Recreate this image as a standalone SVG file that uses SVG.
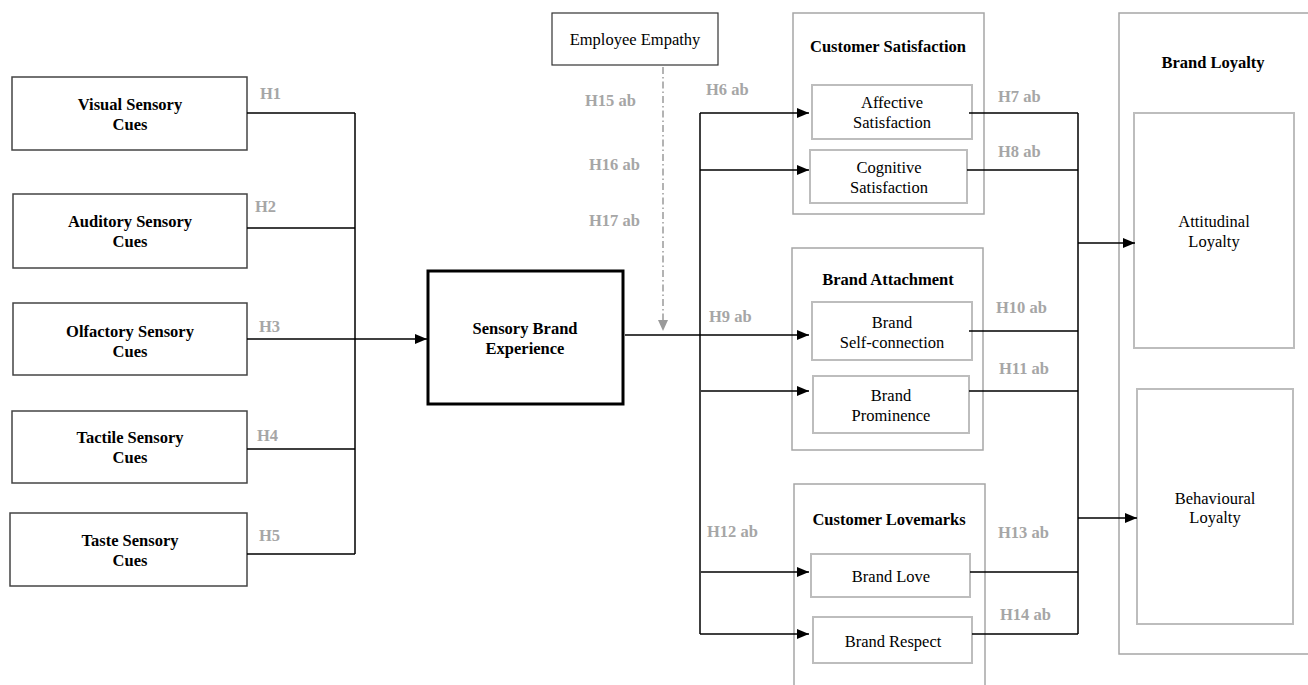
<svg xmlns="http://www.w3.org/2000/svg" width="1308" height="685" viewBox="0 0 1308 685">
  <style>
    text { font-family: "Liberation Serif", "Times New Roman", serif; font-size: 16.5px; fill: #000; text-anchor: middle; }
    .b { font-weight: bold; }
    .h { font-weight: bold; fill: #a6a6a6; text-anchor: start; }
    .cue { fill: #fff; stroke: #444; stroke-width: 1.5; }
    .core { fill: #fff; stroke: #000; stroke-width: 3; }
    .plain { fill: #fff; stroke: #333; stroke-width: 1.2; }
    .outer { fill: #fff; stroke: #a6a6a6; stroke-width: 1.5; }
    .inner { fill: #fff; stroke: #bdbdbd; stroke-width: 2; }
    .ln { fill: none; stroke: #000; stroke-width: 1.5; }
    .arr { fill: none; stroke: #000; stroke-width: 1.5; marker-end: url(#ah); }
    .mod { fill: none; stroke: #9a9a9a; stroke-width: 1.5; stroke-dasharray: 7 3 1.5 3; }
  </style>
  <defs>
    <marker id="ah" viewBox="0 0 12 10" refX="12" refY="5" markerWidth="12" markerHeight="10" markerUnits="userSpaceOnUse" orient="auto">
      <path d="M0,0 L12,5 L0,10 Z" fill="#000"/>
    </marker>
  </defs>

  <!-- sensory cue boxes -->
  <g id="visual"><rect class="cue" x="12" y="77" width="235" height="73"/><text class="b" x="130" y="110">Visual Sensory</text><text class="b" x="130" y="130">Cues</text></g>
  <g id="auditory"><rect class="cue" x="13" y="194" width="234" height="74"/><text class="b" x="130" y="227">Auditory Sensory</text><text class="b" x="130" y="247">Cues</text></g>
  <g id="olfactory"><rect class="cue" x="13" y="303" width="234" height="72"/><text class="b" x="130" y="337">Olfactory Sensory</text><text class="b" x="130" y="357">Cues</text></g>
  <g id="tactile"><rect class="cue" x="12" y="411" width="235" height="72"/><text class="b" x="130" y="443">Tactile Sensory</text><text class="b" x="130" y="463">Cues</text></g>
  <g id="taste"><rect class="cue" x="10" y="513" width="237" height="73"/><text class="b" x="130" y="546">Taste Sensory</text><text class="b" x="130" y="566">Cues</text></g>

  <!-- central construct -->
  <g id="sensory-brand-experience"><rect class="core" x="428" y="271" width="195" height="133"/><text class="b" x="525" y="334">Sensory Brand</text><text class="b" x="525" y="354">Experience</text></g>

  <!-- moderator -->
  <g id="employee-empathy"><rect class="plain" x="552" y="13" width="166" height="52"/><text x="635" y="45">Employee Empathy</text></g>

  <!-- customer satisfaction -->
  <g id="customer-satisfaction">
    <rect class="outer" x="793" y="13" width="191" height="201"/>
    <text class="b" x="888" y="52">Customer Satisfaction</text>
  </g>
  <g id="affective-satisfaction"><rect class="inner" x="812" y="85" width="160" height="54"/><text x="892" y="108">Affective</text><text x="892" y="128">Satisfaction</text></g>
  <g id="cognitive-satisfaction"><rect class="inner" x="810" y="150" width="157" height="53"/><text x="889" y="173">Cognitive</text><text x="889" y="193">Satisfaction</text></g>

  <!-- brand attachment -->
  <g id="brand-attachment">
    <rect class="outer" x="792" y="248" width="191" height="202"/>
    <text class="b" x="888" y="285">Brand Attachment</text>
  </g>
  <g id="brand-self-connection"><rect class="inner" x="812" y="302" width="160" height="58"/><text x="892" y="328">Brand</text><text x="892" y="348">Self-connection</text></g>
  <g id="brand-prominence"><rect class="inner" x="813" y="376" width="156" height="57"/><text x="891" y="401">Brand</text><text x="891" y="421">Prominence</text></g>

  <!-- customer lovemarks -->
  <g id="customer-lovemarks">
    <rect class="outer" x="794" y="484" width="191" height="215"/>
    <text class="b" x="889" y="525">Customer Lovemarks</text>
  </g>
  <g id="brand-love"><rect class="inner" x="811" y="554" width="159" height="43"/><text x="891" y="582">Brand Love</text></g>
  <g id="brand-respect"><rect class="inner" x="813" y="617" width="159" height="46"/><text x="893" y="647">Brand Respect</text></g>

  <!-- brand loyalty -->
  <g id="brand-loyalty">
    <rect class="outer" x="1119" y="13" width="200" height="641"/>
    <text class="b" x="1213" y="68">Brand Loyalty</text>
  </g>
  <g id="attitudinal-loyalty"><rect class="inner" x="1134" y="113" width="160" height="235"/><text x="1214" y="227">Attitudinal</text><text x="1214" y="247">Loyalty</text></g>
  <g id="behavioural-loyalty"><rect class="inner" x="1137" y="389" width="156" height="235"/><text x="1215" y="504">Behavioural</text><text x="1215" y="523">Loyalty</text></g>

  <!-- connectors -->
  <g id="connectors">
    <path class="ln" d="M247,113 H355 M247,228 H355 M247,449 H355 M247,554 H355 M355,113 V554"/>
    <path class="arr" d="M247,339 H427"/>
    <path class="mod" d="M663,67 V322"/>
    <path d="M658,320 L668,320 L663,331 Z" fill="#9a9a9a"/>
    <path class="arr" d="M625,335 H809"/>
    <path class="ln" d="M700,113 V634"/>
    <path class="arr" d="M700,113 H809"/>
    <path class="arr" d="M700,170 H809"/>
    <path class="arr" d="M701,391 H809"/>
    <path class="arr" d="M701,572 H809"/>
    <path class="arr" d="M700,634 H809"/>
    <path class="ln" d="M969,113 H1078 M967,170 H1078 M969,331 H1078 M969,391 H1078 M970,572 H1078 M972,634 H1078 M1078,113 V634"/>
    <path class="arr" d="M1078,243 H1135"/>
    <path class="arr" d="M1078,518 H1137"/>
  </g>

  <!-- hypothesis labels -->
  <g id="hypotheses">
    <text class="h" x="260" y="99">H1</text>
    <text class="h" x="255" y="212">H2</text>
    <text class="h" x="259" y="332">H3</text>
    <text class="h" x="257" y="441">H4</text>
    <text class="h" x="259" y="541">H5</text>
    <text class="h" x="585" y="106">H15 ab</text>
    <text class="h" x="589" y="170">H16 ab</text>
    <text class="h" x="589" y="226">H17 ab</text>
    <text class="h" x="706" y="95">H6 ab</text>
    <text class="h" x="709" y="322">H9 ab</text>
    <text class="h" x="707" y="537">H12 ab</text>
    <text class="h" x="998" y="102">H7 ab</text>
    <text class="h" x="998" y="157">H8 ab</text>
    <text class="h" x="996" y="313">H10 ab</text>
    <text class="h" x="999" y="374">H11 ab</text>
    <text class="h" x="998" y="538">H13 ab</text>
    <text class="h" x="1000" y="620">H14 ab</text>
  </g>
</svg>
